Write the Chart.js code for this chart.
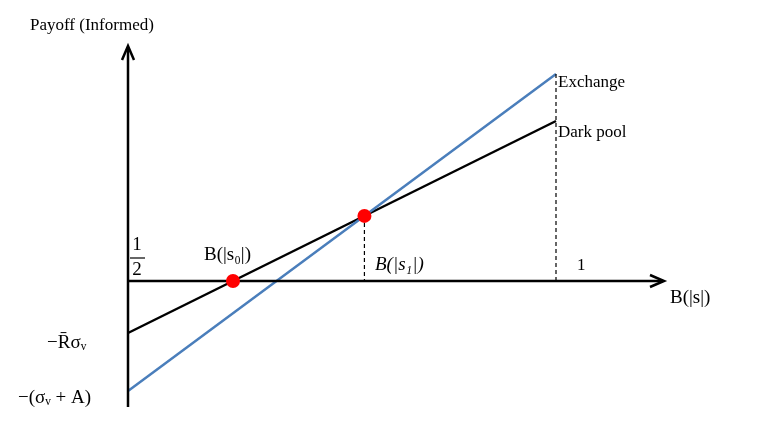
<!DOCTYPE html>
<html><head><meta charset="utf-8">
<script src="https://cdn.jsdelivr.net/npm/chart.js@4"></script>
<style>html,body{margin:0;padding:0;background:#fff}#w{width:763px;height:435px}</style>
</head><body><div id="w"><canvas id="c"></canvas></div>
<script>
const xEnds = [0, 1];
const exchangeY = [-1.10, 2.07];
const darkPoolY = [-0.52, 1.60];
const seriesNames = ["Exchange", "Dark pool"];
const xAxisLabel = "B(|s|)";
const yAxisLabel = "Payoff (Informed)";

const slope = a => (a[1]-a[0])/(xEnds[1]-xEnds[0]);
const xs1 = (darkPoolY[0]-exchangeY[0])/(slope(exchangeY)-slope(darkPoolY));
const ys1 = darkPoolY[0] + slope(darkPoolY)*xs1;
const xs0 = -darkPoolY[0]/slope(darkPoolY);

const overlay = {
  id:'overlay',
  afterDatasetsDraw(ch){
    const c=ch.ctx, X=ch.scales.x, Y=ch.scales.y;
    const px=v=>X.getPixelForValue(v), py=v=>Y.getPixelForValue(v);
    c.save();
    c.strokeStyle='#000'; c.fillStyle='#000'; c.lineWidth=2.5;
    // axes
    const ox=px(0), oy=py(0);
    c.beginPath(); c.moveTo(ox, py(-1.26)); c.lineTo(ox, 48); c.stroke();
    c.beginPath(); c.moveTo(ox-6,60); c.lineTo(ox,46); c.lineTo(ox+6,60); c.stroke();
    c.beginPath(); c.moveTo(ox, oy); c.lineTo(663, oy); c.stroke();
    c.beginPath(); c.moveTo(650,oy-6); c.lineTo(664,oy); c.lineTo(650,oy+6); c.stroke();
    // dashed
    c.lineWidth=1.2; c.setLineDash([4,3]);
    c.beginPath(); c.moveTo(px(xs1), py(ys1)); c.lineTo(px(xs1), oy); c.stroke();
    c.beginPath(); c.moveTo(px(1), py(exchangeY[1])); c.lineTo(px(1), oy); c.stroke();
    c.setLineDash([]);
    // dots
    c.fillStyle='#ff0000';
    [[xs1,ys1],[xs0,0]].forEach(p=>{c.beginPath();c.arc(px(p[0]),py(p[1]),7,0,Math.PI*2);c.fill();});
    // texts
    c.fillStyle='#000'; c.textBaseline='middle';
    const F='"Liberation Serif", "DejaVu Serif", serif';
    c.font='17px '+F; c.textAlign='left';
    c.fillText(yAxisLabel, 30, 26);
    c.fillText(seriesNames[0], 558, 83);
    c.fillText(seriesNames[1], 558, 133);
    c.fillText('1', 577, 266);
    c.font='19px '+F;
    c.fillText(xAxisLabel, 670, 298);
    c.fillText('B(|s\u2080|)', 204, 255);
    c.font='italic 19px '+F;
    c.fillText('B(|s\u2081|)', 375, 265);
    c.font='19px '+F; c.textAlign='center';
    c.fillText('1', 137, 245);
    c.fillText('2', 137, 270);
    c.lineWidth=1.2; c.beginPath(); c.moveTo(130,258); c.lineTo(145,258); c.stroke();
    c.textAlign='left';
    c.fillText('\u2212R\u0304\u03c3\u1d65', 47, 343);
    c.fillText('\u2212(\u03c3\u1d65 + A)', 18, 398);
    c.restore();
  }
};

new Chart(document.getElementById('c'), {
  type:'scatter',
  data:{datasets:[
    {label:seriesNames[0], data:xEnds.map((x,i)=>({x,y:exchangeY[i]})), showLine:true, borderColor:'#4a7ebb', borderWidth:2.5, pointRadius:0},
    {label:seriesNames[1], data:xEnds.map((x,i)=>({x,y:darkPoolY[i]})), showLine:true, borderColor:'#000', borderWidth:2.5, pointRadius:0}
  ]},
  options:{
    responsive:true, maintainAspectRatio:false, animation:false,
    layout:{padding:0},
    plugins:{legend:{display:false}, tooltip:{enabled:false}},
    scales:{
      x:{type:'linear', display:false, min:-128/428, max:(763-128)/428},
      y:{type:'linear', display:false, min:-154/100, max:281/100}
    }
  },
  plugins:[overlay]
});
</script></body></html>
